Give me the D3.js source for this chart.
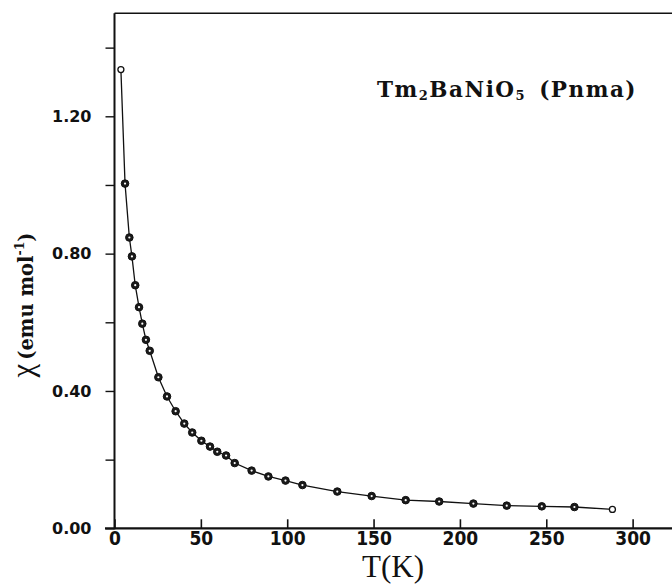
<!DOCTYPE html>
<html><head><meta charset="utf-8">
<script src="https://cdn.jsdelivr.net/npm/d3@7/dist/d3.min.js"></script>
<style>
html,body{margin:0;padding:0;background:#fff;}
svg{display:block;}
</style></head>
<body>
<svg id="chart" width="672" height="587"></svg>
<script>
// Data
const temperature = [3.7, 6.1, 8.6, 10.1, 12.0, 14.2, 16.1, 18.2, 20.4, 25.4, 30.4, 35.4, 40.4, 45.0, 50.3, 55.3, 59.5, 64.6, 69.6, 79.4, 89.1, 99.0, 108.8, 129.0, 148.9, 168.6, 188.0, 207.8, 227.1, 247.4, 266.3, 288.3];
const chi = [1.336, 1.004, 0.847, 0.792, 0.708, 0.644, 0.596, 0.549, 0.517, 0.440, 0.384, 0.341, 0.305, 0.279, 0.255, 0.238, 0.223, 0.212, 0.190, 0.168, 0.151, 0.139, 0.126, 0.107, 0.094, 0.082, 0.078, 0.072, 0.066, 0.064, 0.062, 0.055];
const openMarker = [true, false, false, false, false, false, false, false, false, false, false, false, false, false, false, false, false, false, false, false, false, false, false, false, false, false, false, false, false, false, false, true];
const xTicks = [0, 50, 100, 150, 200, 250, 300];
const yTicks = [0, 0.2, 0.4, 0.6, 0.8, 1.0, 1.2, 1.4];
const yTickLabels = {"0": "0.00", "0.4": "0.40", "0.8": "0.80", "1.2": "1.20"};

const svg = d3.select("#chart");
const x = d3.scaleLinear().domain([0, 325]).range([114.5, 675.8]);
const y = d3.scaleLinear().domain([0, 1.5]).range([528.3, 13.3]);

// frame: top border
svg.append("line").attr("x1", x(0)).attr("x2", 672).attr("y1", y(1.5)).attr("y2", y(1.5))
  .attr("stroke", "#111").attr("stroke-width", 1.6);

// x axis (ticks pointing up, inside)
const xAxis = d3.axisBottom(x).tickValues(xTicks).tickSizeInner(-9).tickSizeOuter(0).tickPadding(5).tickFormat(d3.format("d"));
const gx = svg.append("g").attr("transform", `translate(0,${y(0)})`).call(xAxis);
gx.select(".domain").remove();
gx.selectAll(".tick line").attr("stroke", "#111").attr("stroke-width", 1.6);
gx.selectAll(".tick text").attr("fill", "#111").attr("y", 3).attr("dy", "0.71em")
  .style("font-family", "'DejaVu Sans Condensed', 'DejaVu Sans', sans-serif").style("font-stretch", "condensed")
  .style("font-weight", "bold").style("font-size", "19px");
svg.append("line").attr("x1", 105).attr("x2", 672).attr("y1", y(0)).attr("y2", y(0))
  .attr("stroke", "#111").attr("stroke-width", 2.2);

// y axis (ticks pointing left, outside)
const yAxis = d3.axisLeft(y).tickValues(yTicks).tickSizeInner(9).tickSizeOuter(0).tickPadding(14)
  .tickFormat(d => yTickLabels[String(+d.toFixed(1))] || "");
const gy = svg.append("g").attr("transform", `translate(${x(0)},0)`).call(yAxis);
gy.select(".domain").remove();
gy.selectAll(".tick line").attr("stroke", "#111").attr("stroke-width", 1.4);
gy.selectAll(".tick text").attr("fill", "#111")
  .style("font-family", "'DejaVu Sans', sans-serif").style("font-weight", "bold").style("font-size", "16px");
svg.append("line").attr("x1", x(0)).attr("x2", x(0)).attr("y1", y(1.5)).attr("y2", y(0) + 1)
  .attr("stroke", "#111").attr("stroke-width", 2);

// data line
const pts = temperature.map((t, i) => ({t, c: chi[i], open: openMarker[i]}));
const line = d3.line().x(d => x(d.t)).y(d => y(d.c)).curve(d3.curveLinear);
svg.append("path").datum(pts).attr("d", line).attr("fill", "none").attr("stroke", "#111").attr("stroke-width", 1.3);

// markers
const mk = svg.append("g");
mk.selectAll("circle.m").data(pts).join("circle").attr("class", "m")
  .attr("cx", d => x(d.t)).attr("cy", d => y(d.c))
  .attr("r", d => d.open ? 3 : 3.8)
  .attr("fill", d => d.open ? "#fff" : "#1a1a1a")
  .attr("stroke", "#111").attr("stroke-width", d => d.open ? 1.3 : 1);
mk.selectAll("circle.c").data(pts.filter(d => !d.open)).join("circle").attr("class", "c")
  .attr("cx", d => x(d.t)).attr("cy", d => y(d.c)).attr("r", 1.1).attr("fill", "#fff");

// x axis title
svg.append("text").attr("x", 393).attr("y", 577).attr("text-anchor", "middle")
  .style("font-family", "'Liberation Serif', 'DejaVu Serif', serif").style("font-size", "31px").attr("fill", "#111")
  .text("T(K)");

// y axis title (rotated)
const yl = svg.append("text").attr("transform", "translate(33,305) rotate(-90)").attr("text-anchor", "middle")
  .style("font-family", "'DejaVu Serif', 'Liberation Serif', serif").style("font-weight", "bold").attr("fill", "#111");
yl.append("tspan").style("font-weight", "normal").style("font-family", "'Liberation Serif', serif").style("font-size", "31px").text("χ");
yl.append("tspan").style("font-size", "19.5px").attr("dx", 4).text("(emu mol");
yl.append("tspan").style("font-size", "12.5px").attr("dy", -9).text("-1");
yl.append("tspan").style("font-size", "19.5px").attr("dy", 9).text(")");

// annotation: fixed size, letter-spacing fitted to the reference width
const ann = svg.append("text").attr("x", 377).attr("y", 97.3)
  .style("font-family", "'DejaVu Serif', 'Liberation Serif', serif").style("font-weight", "bold")
  .style("font-size", "21.5px").attr("fill", "#111");
ann.append("tspan").text("Tm");
ann.append("tspan").style("font-size", "13px").attr("dy", 3).text("2");
ann.append("tspan").attr("dy", -3).text("BaNiO");
ann.append("tspan").style("font-size", "13px").attr("dy", 3).text("5");
ann.append("tspan").attr("dy", -3).attr("dx", 13).text("(Pnma)");
const aw = ann.node().getComputedTextLength() + 13;
const nChars = "Tm2BaNiO5(Pnma)".length;
const ls = Math.max(-1, Math.min(2, (260 - aw) / nChars));
ann.style("letter-spacing", ls + "px");
</script>
</body></html>
